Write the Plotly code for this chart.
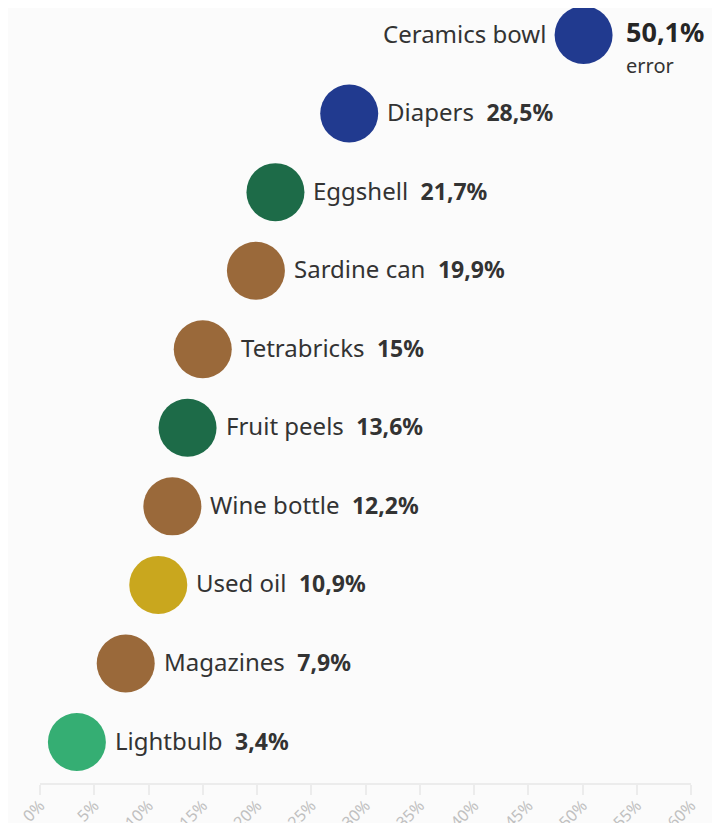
import plotly.graph_objects as go

categories = ["Lightbulb", "Magazines", "Used oil", "Wine bottle", "Fruit peels",
              "Tetrabricks", "Sardine can", "Eggshell", "Diapers", "Ceramics bowl"]
values = [3.4, 7.9, 10.9, 12.2, 13.6, 15.0, 19.9, 21.7, 28.5, 50.1]
value_labels = ["3,4%", "7,9%", "10,9%", "12,2%", "13,6%", "15%", "19,9%", "21,7%", "28,5%", "50,1%"]
marker_colors = ["#35ae73", "#9a693a", "#c9a71e", "#9a693a", "#1d6b48",
                 "#9a693a", "#9a693a", "#1d6b48", "#213a8f", "#213a8f"]
tick_vals = [0, 5, 10, 15, 20, 25, 30, 35, 40, 45, 50, 55, 60]
tick_text = ["0%", "5%", "10%", "15%", "20%", "25%", "30%", "35%", "40%", "45%", "50%", "55%", "60%"]

ypos = list(range(len(categories)))

fig = go.Figure()
fig.add_trace(go.Scatter(
    x=values, y=ypos, mode="markers",
    marker=dict(size=58, color=marker_colors, line=dict(width=0)),
    hoverinfo="skip", showlegend=False, cliponaxis=False,
))

annotations = []
for i, (cat, v, lab) in enumerate(zip(categories, values, value_labels)):
    if i == len(categories) - 1:
        annotations.append(dict(x=v, y=i, xref="x", yref="y", text=cat, showarrow=False,
                                xanchor="right", yanchor="middle", xshift=-36, yshift=2,
                                font=dict(family="Noto Sans", size=24, color="#333333")))
        annotations.append(dict(x=v, y=i, xref="x", yref="y", text="<b>" + lab + "</b>",
                                showarrow=False, xanchor="left", yanchor="middle",
                                xshift=40, yshift=4,
                                font=dict(family="Noto Sans", size=27, color="#262626")))
        annotations.append(dict(x=v, y=i, xref="x", yref="y", text="error",
                                showarrow=False, xanchor="left", yanchor="middle",
                                xshift=40, yshift=-30,
                                font=dict(family="Noto Sans", size=20, color="#333333")))
    else:
        annotations.append(dict(x=v, y=i, xref="x", yref="y",
                                text=cat + "  <span style='font-size:23px'><b>" + lab + "</b></span>",
                                showarrow=False, xanchor="left", yanchor="middle",
                                xshift=36, yshift=2,
                                font=dict(family="Noto Sans", size=24, color="#333333")))

fig.update_layout(
    width=712, height=815,
    margin=dict(l=32, r=29, t=0, b=40),
    paper_bgcolor="#fbfbfb", plot_bgcolor="#fbfbfb",
    annotations=annotations,
    xaxis=dict(range=[0, 60], tickvals=tick_vals, ticktext=tick_text, tickangle=-45,
               automargin=False, ticklabelstandoff=-5,
               showgrid=False, zeroline=False, showline=True, linecolor="#ececec", linewidth=2,
               ticks="outside", ticklen=10, tickcolor="#ececec", tickwidth=2,
               tickfont=dict(family="Noto Sans", size=16, color="#c0c0c0")),
    yaxis=dict(range=[-0.522, 9.344], visible=False, showgrid=False, zeroline=False,
               automargin=False),
)

fig.write_html("out.html")
